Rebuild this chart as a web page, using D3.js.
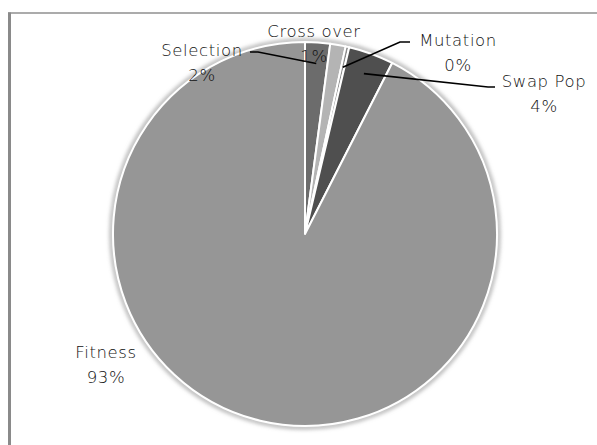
<!DOCTYPE html>
<html>
<head>
<meta charset="utf-8">
<script src="https://cdn.jsdelivr.net/npm/d3@7"></script>
<style>
  html, body { margin: 0; padding: 0; background: #fff; }
  svg { display: block; }
  text { font-family: "DejaVu Sans", sans-serif; font-size: 16.5px; font-weight: 200;
         letter-spacing: 0.6px; fill: #111; }
</style>
</head>
<body>
<svg id="chart" width="597" height="445"></svg>
<script>
// Share of run time spent in each stage of the genetic algorithm
const categories = ["Selection", "Cross over", "Mutation", "Swap Pop", "Fitness"];
const shares = [2.1, 1.3, 0.3, 3.8, 92.5];
const sliceColors = ["#6c6c6c", "#b4b4b4", "#8a8a8a", "#4f4f4f", "#969696"];

// Label placement: label centre (x, first baseline) and leader start point
const labelPos = [
  { x: 202, y: 56, lx: 250, ly: 52, hx: 258 },
  { x: 314, y: 37, lx: null },
  { x: 458, y: 46, lx: 410, ly: 42, hx: 400 },
  { x: 544, y: 87, lx: 495, ly: 87, hx: 488 },
  { x: 106, y: 358, lx: null }
];

const W = 597, H = 445;
const cx = 305, cy = 234, R = 192;

const svg = d3.select("#chart");

// frame lines
svg.append("line").attr("x1", 8).attr("x2", W).attr("y1", 13).attr("y2", 13)
  .attr("stroke", "#8f8f8f").attr("stroke-width", 1.5);
svg.append("line").attr("x1", 9.5).attr("x2", 9.5).attr("y1", 12.5).attr("y2", H)
  .attr("stroke", "#8a8a8a").attr("stroke-width", 3);

// soft shadow around the pie edge
const defs = svg.append("defs");
const f = defs.append("filter").attr("id", "halo").attr("x", "-10%").attr("y", "-10%")
  .attr("width", "120%").attr("height", "120%");
f.append("feGaussianBlur").attr("stdDeviation", 2);

const g = svg.append("g").attr("transform", `translate(${cx},${cy})`);

g.append("circle").attr("r", R + 1.5).attr("fill", "none")
  .attr("stroke", "#9a9a9a").attr("stroke-width", 3).attr("filter", "url(#halo)");

const pie = d3.pie().sort(null).value(d => d)
  .startAngle(0).endAngle(2 * Math.PI);
const arcs = pie(shares);
const arc = d3.arc().innerRadius(0).outerRadius(R);

g.selectAll("path.slice").data(arcs).join("path")
  .attr("class", "slice")
  .attr("d", arc)
  .attr("fill", (d, i) => sliceColors[i])
  .attr("stroke", "#ffffff")
  .attr("stroke-width", 2)
  .attr("stroke-linejoin", "round");

const total = d3.sum(shares);
const pct = v => Math.round(v / total * 100) + "%";

// leader lines: from the label to a point inside the slice at its mid angle
const inner = R * 0.89;
arcs.forEach((a, i) => {
  const p = labelPos[i];
  if (p.lx == null) return;
  const mid = (a.startAngle + a.endAngle) / 2;
  const ex = cx + inner * Math.sin(mid);
  const ey = cy - inner * Math.cos(mid);
  svg.append("polyline")
    .attr("points", `${p.lx},${p.ly} ${p.hx},${p.ly} ${ex},${ey}`)
    .attr("fill", "none").attr("stroke", "#000").attr("stroke-width", 1.6);
});

// category name and percentage
arcs.forEach((a, i) => {
  const p = labelPos[i];
  const t = svg.append("text").attr("text-anchor", "middle");
  t.append("tspan").attr("x", p.x).attr("y", p.y).text(categories[i]);
  t.append("tspan").attr("x", p.x).attr("dy", 25).text(pct(a.data));
});
</script>
</body>
</html>
